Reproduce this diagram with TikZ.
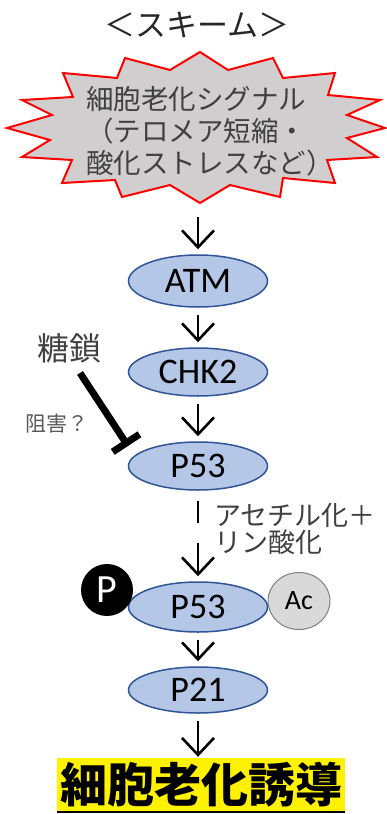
\documentclass[tikz,border=0pt]{standalone}
\usepackage{fontspec}
\setmainfont{Carlito}
\newfontfamily\jp{Noto Sans CJK JP}
\usetikzlibrary{arrows.meta,shapes.geometric}
\definecolor{efill}{HTML}{B4C7E7}
\definecolor{edraw}{HTML}{2F5597}
\definecolor{starfill}{HTML}{D0CECE}
\definecolor{txtgrey}{HTML}{404040}
\definecolor{txtgrey2}{HTML}{595959}
\definecolor{acfill}{HTML}{D9D9D9}
\definecolor{acdraw}{HTML}{7F7F7F}
\tikzset{
  prot/.style={ellipse, draw=edraw, line width=1.5pt, fill=efill, minimum width=139pt, minimum height=48pt, inner sep=0pt, font=\fontsize{36}{38}\selectfont},
  arr/.style={-{Straight Barb[length=17pt 0 0,width=32pt 0 0]}, line width=2.6pt, black, shorten >=5pt, shorten <=7pt},
  jplabel/.style={font=\jp\fontsize{#1}{#1}\selectfont, inner sep=0pt},
}
\begin{document}
\begin{tikzpicture}[x=1pt,y=-1pt]
\useasboundingbox (0,0) rectangle (386,814);
% title
\node[jplabel=31, text=black!85] (title) at (197,25) {＜スキーム＞};
% starburst
\draw[red, line width=2pt, fill=starfill, line join=miter]
 (200,52) -- (228,70) -- (273,58) -- (283,78) -- (335,73) -- (328,95) -- (380,100) -- (347,115) -- (385,128) -- (347,138) -- (377,157) -- (327,160) -- (335,183) -- (283,178) -- (280,197) -- (230,185) -- (200,203) -- (170,185) -- (122,197) -- (115,180) -- (62,183) -- (72,160) -- (22,157) -- (50,140) -- (7,128) -- (52,115) -- (22,100) -- (73,97) -- (63,73) -- (117,78) -- (125,58) -- (170,70) -- cycle;
\node[font=\jp\fontsize{27.5}{32}\selectfont, text=txtgrey, align=left, anchor=west, inner sep=0pt] (sig) at (86,131) {細胞老化シグナル\\（テロメア短縮・\\酸化ストレスなど）};
\coordinate (sigb) at (198,205);
% proteins
\node[prot, minimum height=52pt] (atm) at (198,281) {ATM};
\node[prot] (chk) at (198,372) {CHK2};
\node[prot] (p53) at (198,466) {P53};
\node[prot, minimum height=50pt] (p53b) at (198,607) {P53};
\node[prot, minimum height=46pt] (p21) at (198,690) {P21};
% modifiers
\node[circle, fill=black, minimum size=52pt, inner sep=0pt, text=white, font=\fontsize{40}{40}\selectfont] (phos) at (107,590) {P};
\node[ellipse, fill=acfill, draw=acdraw, line width=1pt, minimum width=62pt, minimum height=57pt, inner sep=0pt, font=\fontsize{28}{28}\selectfont] (ac) at (299,601) {Ac};
% arrows
\draw[arr, shorten <=12pt] (sigb) -- (atm.north);
\draw[arr] (atm.south) -- (chk.north);
\draw[arr] (chk.south) -- (p53.north);
\coordinate (m1) at (198,523);
\coordinate (m2) at (198,543);
\draw[line width=2.6pt, shorten <=10pt] (p53.south) -- (m1);
\draw[arr, shorten <=0pt] (m2) -- (p53b.north);
\draw[arr] (p53b.south) -- (p21.north);
% labels
\node[jplabel=27, text=txtgrey, align=left, anchor=west] (acet) at (214,529) {\baselineskip=33pt アセチル化＋\\リン酸化};
\node[jplabel=32, text=txtgrey] (sugar) at (69,348) {糖鎖};
\node[jplabel=21, text=txtgrey2] (inhib) at (57,424) {阻害？};
\coordinate (gs) at (80,373);
\coordinate (ge) at (128,446);
\draw[line width=7pt, -{Bar[width=32pt 0 0]}] (gs) -- (ge);
% result
\node[fill=yellow, minimum width=288pt, minimum height=54pt, inner sep=0pt, font=\jp\bfseries\fontsize{47}{47}\selectfont] (res) at (201,785) {細胞老化誘導};
\draw[line width=2pt] (res.south west) -- (res.south east);
\draw[arr, shorten >=1pt] (p21.south) -- (p21.south |- res.north);
\end{tikzpicture}
\end{document}
